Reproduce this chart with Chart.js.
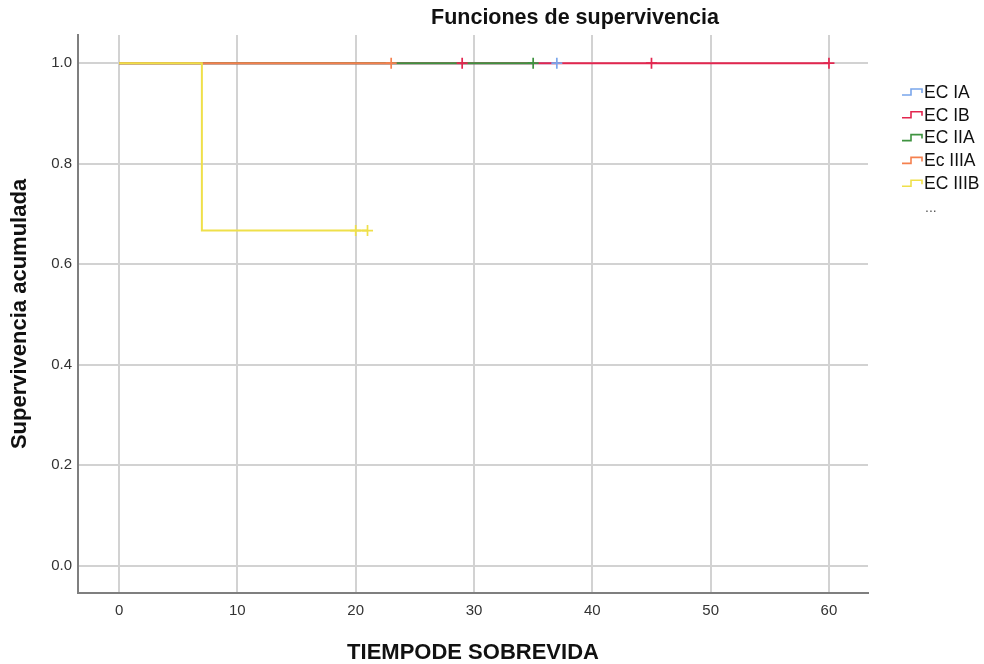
<!DOCTYPE html>
<html>
<head>
<meta charset="utf-8">
<script src="https://cdn.jsdelivr.net/npm/chart.js@4/dist/chart.umd.min.js"></script>
<style>
  html, body { margin: 0; padding: 0; background: #fff; }
  #wrap { width: 984px; height: 664px; position: relative; }
</style>
</head>
<body>
<div id="wrap"><canvas id="km"></canvas></div>
<script>
// Kaplan-Meier survival by clinical stage
const stageNames = ['EC IA', 'EC IB', 'EC IIA', 'Ec IIIA', 'EC IIIB'];
const stageColors = ['#7aa6ec', '#e3264f', '#3f9340', '#f5814f', '#efe04a'];

// step curves: time (months) and cumulative survival at each vertex
const curveTimes = [
  [0, 37],
  [0, 60],
  [0, 35],
  [0, 23],
  [0, 7, 21]
];
const curveSurvival = [
  [1.0, 1.0],
  [1.0, 1.0],
  [1.0, 1.0],
  [1.0, 1.0],
  [1.0, 0.667, 0.667]
];

// censored observations
const censorTimes = [
  [37],
  [29, 45, 60],
  [35],
  [23],
  [20, 21]
];
const censorSurvival = [
  [1.0],
  [1.0, 1.0, 1.0],
  [1.0],
  [1.0],
  [0.667, 0.667]
];

const xTickValues = [0, 10, 20, 30, 40, 50, 60];
const yTickValues = [0.0, 0.2, 0.4, 0.6, 0.8, 1.0];

const chartTitle = 'Funciones de supervivencia';
const xTitle = 'TIEMPODE SOBREVIDA';
const yTitle = 'Supervivencia acumulada';

const FONT = '"Liberation Sans", Arial, sans-serif';

// later stages are painted over earlier ones (lower order = drawn on top)
const datasets = [];
stageNames.forEach((name, i) => {
  datasets.push({
    label: name,
    type: 'line',
    data: curveTimes[i].map((t, j) => ({ x: t, y: curveSurvival[i][j] })),
    stepped: 'before',
    borderColor: stageColors[i],
    borderWidth: 2,
    pointRadius: 0,
    fill: false,
    order: 20 - i
  });
});
stageNames.forEach((name, i) => {
  datasets.push({
    label: name + ' censurado',
    type: 'scatter',
    data: censorTimes[i].map((t, j) => ({ x: t, y: censorSurvival[i][j] })),
    pointStyle: 'cross',
    pointRadius: 5.5,
    pointBorderWidth: 1.7,
    borderColor: stageColors[i],
    backgroundColor: stageColors[i],
    order: 10 - i
  });
});

// title and SPSS-style legend drawn on the canvas
const decorations = {
  id: 'decorations',
  afterDraw(chart) {
    const ctx = chart.ctx;
    ctx.save();
    ctx.fillStyle = '#111';
    ctx.font = 'bold 21.5px ' + FONT;
    ctx.textAlign = 'center';
    ctx.textBaseline = 'middle';
    ctx.fillText(chartTitle, 575, 18.5);

    const lx = 902, ly0 = 92, step = 22.8;
    ctx.font = '17.5px ' + FONT;
    ctx.textAlign = 'left';
    stageNames.forEach((name, i) => {
      const y = ly0 + i * step;
      ctx.strokeStyle = stageColors[i];
      ctx.lineWidth = 1.6;
      ctx.beginPath();
      ctx.moveTo(lx, y + 3);
      ctx.lineTo(lx + 9, y + 3);
      ctx.lineTo(lx + 9, y - 3);
      ctx.lineTo(lx + 20, y - 3);
      ctx.lineTo(lx + 20, y + 1);
      ctx.stroke();
      ctx.fillStyle = '#111';
      ctx.fillText(name, lx + 22, y + 1);
    });
    ctx.fillStyle = '#555';
    ctx.font = '14px ' + FONT;
    ctx.fillText('...', 925, ly0 + 5 * step + 2);
    ctx.restore();
  }
};

new Chart(document.getElementById('km'), {
  type: 'scatter',
  data: { datasets },
  options: {
    responsive: true,
    maintainAspectRatio: false,
    animation: false,
    layout: { padding: { top: 35, right: 116, left: 0, bottom: 0 } },
    plugins: {
      legend: { display: false },
      tooltip: { enabled: false }
    },
    scales: {
      x: {
        type: 'linear',
        min: -3.47,
        max: 63.3,
        afterBuildTicks(scale) { scale.ticks = xTickValues.map(v => ({ value: v })); },
        afterFit(scale) { scale.height = 71; },
        ticks: {
          color: '#333',
          font: { size: 15, family: FONT },
          padding: 9,
          callback: v => String(v)
        },
        grid: { color: '#d2d2d2', lineWidth: 2, drawTicks: false },
        border: { color: '#7f7f7f', width: 2 },
        title: {
          display: true,
          text: xTitle,
          color: '#111',
          font: { size: 22, weight: 'bold', family: FONT, lineHeight: 1 },
          padding: { top: 4, bottom: 0 }
        }
      },
      y: {
        type: 'linear',
        min: -0.054,
        max: 1.056,
        afterBuildTicks(scale) { scale.ticks = yTickValues.map(v => ({ value: v })); },
        afterFit(scale) { scale.width = 78; },
        ticks: {
          color: '#333',
          font: { size: 15, family: FONT },
          padding: 6,
          callback: v => Number(v).toFixed(1)
        },
        grid: { color: '#d2d2d2', lineWidth: 2, drawTicks: false },
        border: { color: '#7f7f7f', width: 2 },
        title: {
          display: true,
          text: yTitle,
          color: '#111',
          font: { size: 22, weight: 'bold', family: FONT },
          padding: { top: 7, bottom: 4 }
        }
      }
    }
  },
  plugins: [decorations]
});
</script>
</body>
</html>
